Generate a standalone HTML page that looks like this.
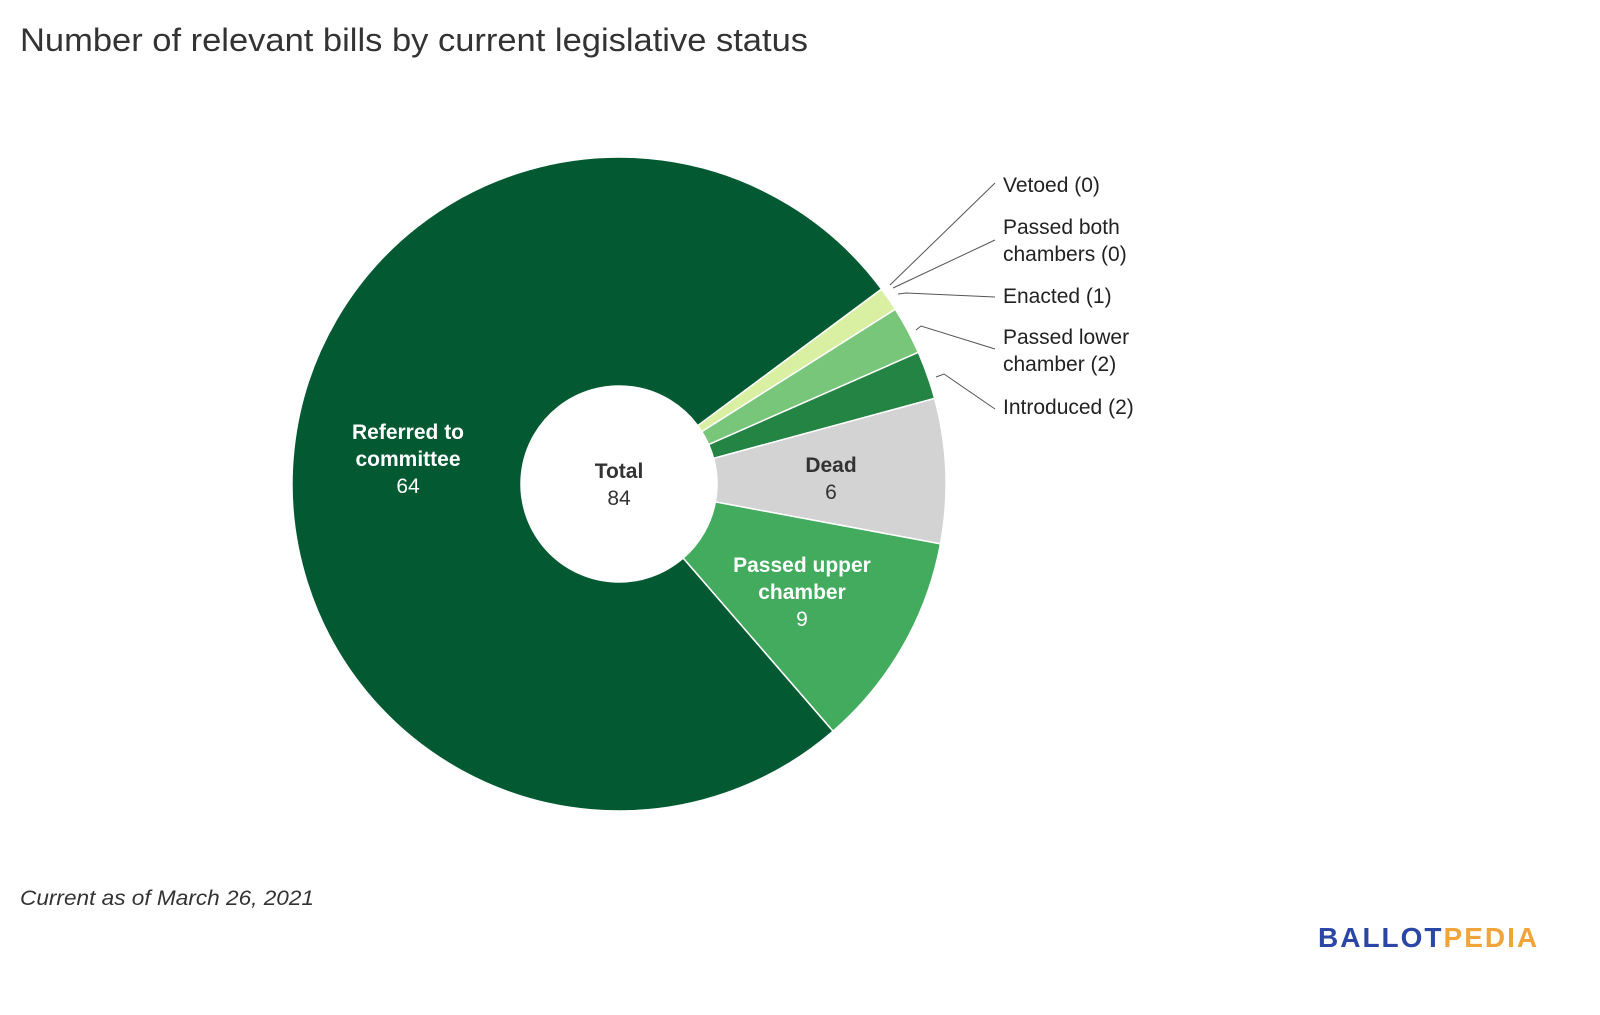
<!DOCTYPE html>
<html><head><meta charset="utf-8"><style>
body{margin:0;background:#fff;width:1600px;height:1015px;overflow:hidden;font-family:"Liberation Sans",sans-serif}
svg{position:absolute;left:0;top:0}
</style></head><body>
<svg id="c" width="1600" height="1015">
<text x="20" y="51" font-size="32" fill="#333" textLength="788" lengthAdjust="spacingAndGlyphs">Number of relevant bills by current legislative status</text>
<text x="20" y="905" font-size="21" font-style="italic" fill="#333" textLength="294" lengthAdjust="spacingAndGlyphs">Current as of March 26, 2021</text>
<text x="1318" y="947" font-size="28" font-weight="bold" letter-spacing="2"><tspan fill="#2b46a6">BALLOT</tspan><tspan fill="#f0a43a">PEDIA</tspan></text>
</svg>
<script>
const categories=["Vetoed","Passed both chambers","Enacted","Passed lower chamber","Introduced","Dead","Passed upper chamber","Referred to committee"];
const values=[0,0,1,2,2,6,9,64];
const colors=["#d9f0a3","#d9f0a3","#d9f0a3","#78c679","#238443","#d3d3d3","#42ab5d","#035a32"];
const startDeg=53.4;
const cx=619,cy=484,R=327,r=98;
const svg=document.getElementById('c');
const NS="http://www.w3.org/2000/svg";
const total=values.reduce((a,b)=>a+b,0);
function pt(deg,rad){const a=deg*Math.PI/180;return [cx+rad*Math.sin(a),cy-rad*Math.cos(a)];}
let ang=startDeg;const mids=[];
values.forEach((v,i)=>{
  const sweep=v/total*360;const a0=ang,a1=ang+sweep;mids.push(a0+sweep/2);ang=a1;
  if(v<=0)return;
  const [x0,y0]=pt(a0,R),[x1,y1]=pt(a1,R),[x2,y2]=pt(a1,r),[x3,y3]=pt(a0,r);
  const large=sweep>180?1:0;
  const p=document.createElementNS(NS,'path');
  p.setAttribute('d',`M${x0},${y0}A${R},${R} 0 ${large} 1 ${x1},${y1}L${x2},${y2}A${r},${r} 0 ${large} 0 ${x3},${y3}Z`);
  p.setAttribute('fill',colors[i]);p.setAttribute('stroke','#fff');p.setAttribute('stroke-width','1.5');
  
  
  svg.appendChild(p);
});
function txt(x,y,s,fill,w,name,anchor){const t=document.createElementNS(NS,'text');t.setAttribute('x',x);t.setAttribute('y',y);t.setAttribute('font-size','21');t.setAttribute('fill',fill);t.setAttribute('text-anchor',anchor||'middle');if(w)t.setAttribute('font-weight',w);t.textContent=s;


svg.appendChild(t);}
txt(408,439,"Referred to","#fff","bold","label-referred");txt(408,466,"committee","#fff","bold","label-referred");txt(408,493,String(values[7]),"#fff",null,"value-referred");
txt(831,472,"Dead","#333","bold","label-dead");txt(831,499,String(values[5]),"#333",null,"value-dead");
txt(802,572,"Passed upper","#fff","bold","label-upper");txt(802,599,"chamber","#fff","bold","label-upper");txt(802,626,String(values[6]),"#fff",null,"value-upper");
txt(619,478,"Total","#333","bold","label-total");txt(619,505,String(total),"#333",null,"value-total");
const outside=[[0,[["Vetoed ("+values[0]+")"]],185,[[890,285],[995,183]]],
[1,[["Passed both"],["chambers ("+values[1]+")"]],227,[[893,288],[995,240]]],
[2,[["Enacted ("+values[2]+")"]],296,[[898,294],[906,293],[995,297]]],
[3,[["Passed lower"],["chamber ("+values[3]+")"]],337,[[916,330],[921,326],[995,349]]],
[4,[["Introduced ("+values[4]+")"]],407,[[936,377],[944,374],[995,409]]]];
outside.forEach(o=>{
  const pl=document.createElementNS(NS,'polyline');pl.setAttribute('points',o[3].map(p=>p.join(',')).join(' '));
  pl.setAttribute('fill','none');pl.setAttribute('stroke','#555');pl.setAttribute('stroke-width','1');
  
  
  svg.appendChild(pl);
  o[1].forEach((l,j)=>txt(1003,o[2]+7+j*27,l[0],"#222","500","outside-label","start"));
});
</script>
</body></html>
